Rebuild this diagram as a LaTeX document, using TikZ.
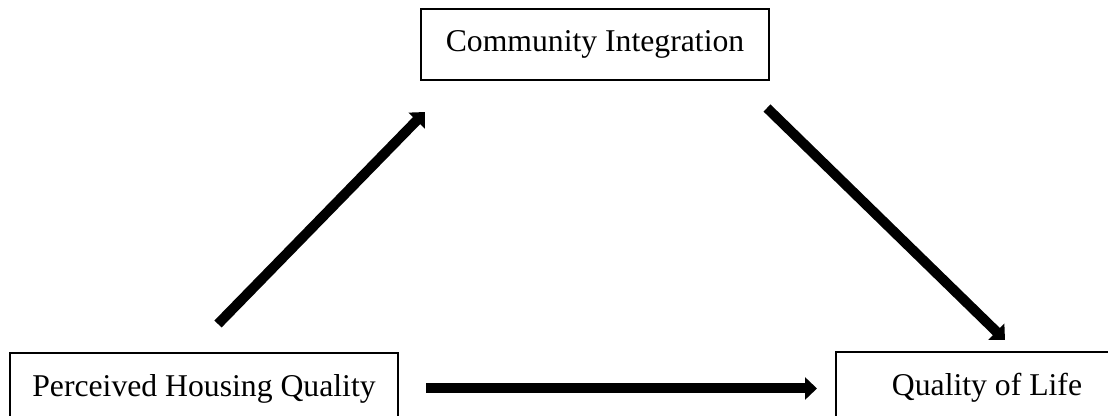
\documentclass[tikz,border=0pt]{standalone}
\usepackage{fontspec}
\setmainfont{Liberation Serif}
\usetikzlibrary{arrows.meta}
\begin{document}
\begin{tikzpicture}[x=0.5pt,y=-0.5pt,
  box/.style={draw, line width=1pt, rectangle, inner sep=0pt, minimum height=35.5pt,
    font=\fontsize{15.85pt}{19pt}\selectfont},
  conn/.style={line width=5pt, -{Triangle[length=6pt,width=11pt]}}]
\useasboundingbox (0,0) rectangle (1108,416);
\clip (0,0) rectangle (1108,416);
\node[box, minimum width=174pt] (ci) at (595,44.5) {Community Integration};
\node[box, minimum width=194pt] (phq) at (204,388.5) {Perceived Housing Quality};
\node[box, minimum width=151pt] (qol) at (987,387.5) {Quality of Life};
\coordinate (a1s) at (218,324);
\coordinate (a1e) at (425,112);
\coordinate (a2s) at (767,108);
\coordinate (a2e) at (1005,340);
\draw[conn] (a1s) -- (a1e);
\draw[conn] (a2s) -- (a2e);
\draw[conn] ([xshift=13.5pt]phq.east) -- ([xshift=-9pt]qol.west |- phq.east);
\end{tikzpicture}
\end{document}
